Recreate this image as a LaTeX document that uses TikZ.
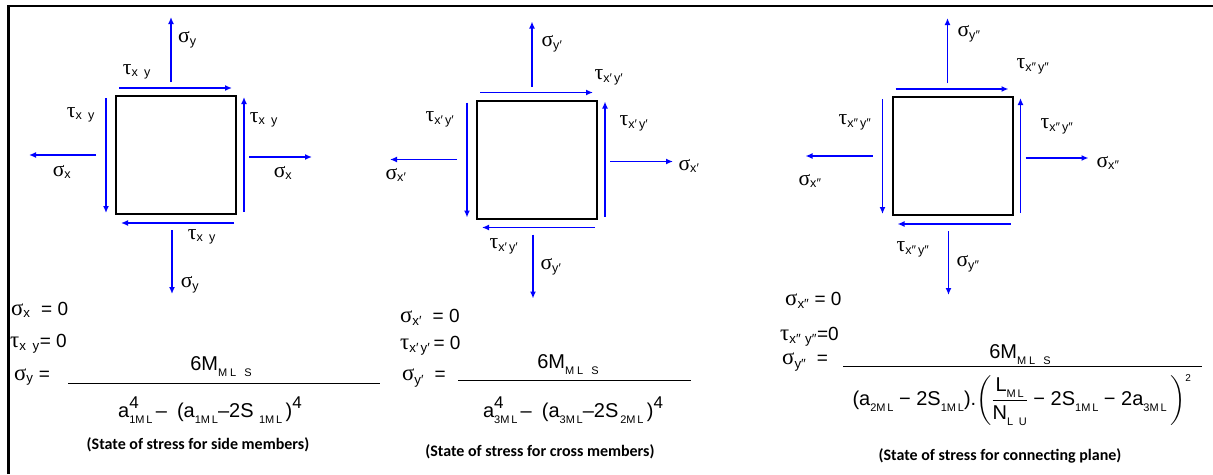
\documentclass[tikz,border=0pt]{standalone}
\usepackage{fontspec}
\usepackage{amsmath}
\setmainfont{Liberation Sans}
\newfontfamily\capfont{Carlito}
\newfontfamily\grk[Scale=1.2]{Liberation Serif}
\usetikzlibrary{arrows.meta}
\newcommand{\sg}{{\grk σ}}
\newcommand{\ta}{{\grk τ}}
\newcommand{\lo}[1]{\raisebox{-0.3em}{\fontsize{11}{11}\selectfont #1}}
\newcommand{\hi}[1]{\raisebox{0.45em}{\fontsize{17}{17}\selectfont #1}}
\newcommand{\hilo}[2]{\rlap{\hi{#1}}\lo{#2}}
\newcommand{\mls}{M\hspace{3pt}L\hspace{8pt}S}
\tikzset{
  force/.style={blue, line width=1.6pt, -{Latex[length=7pt,width=6pt]}},
  elem/.style={draw, line width=2pt, minimum width=120pt, minimum height=118pt, inner sep=0pt},
  lbl/.style={font=\fontsize{18}{21}\selectfont, inner sep=0pt},
  eq/.style={font=\fontsize{19}{22}\selectfont, anchor=west, inner sep=0pt},
  frac/.style={font=\fontsize{20}{24}\selectfont, inner sep=0pt},
  capt/.style={font=\capfont\bfseries\fontsize{16}{19}\selectfont, inner sep=0pt}
}
\begin{document}
\begin{tikzpicture}[x=1pt,y=-1pt]
  \useasboundingbox (0,0) rectangle (1213,474);
  \draw[line width=2.6pt] (8.5,474) -- (8.5,6) -- (1213,6);
  % the three elements
  \node[elem] (side) at (176,155) {};
  \node[elem] (cross) at (537,159.5) {};
  \node[elem] (plane) at (952.5,156) {};
  \foreach \e in {side,cross,plane} {
    \draw[force] ([shift={(-5,-13)}]\e.north) -- ++(0,-65);
    \draw[force] ([shift={(4,-7)}]\e.north west) -- ([shift={(-5,-7)}]\e.north east);
    \draw[force] ([shift={(-9,3)}]\e.north west) -- ([shift={(-9,-2)}]\e.south west);
    \draw[force] ([shift={(7,-3)}]\e.south east) -- ([shift={(7,2)}]\e.north east);
    \draw[force] ([shift={(-19,0)}]\e.west) -- ++(-67,0);
    \draw[force] ([shift={(12,2)}]\e.east) -- ++(63,0);
    \draw[force] ([shift={(-3,8)}]\e.south east) -- ([shift={(6,8)}]\e.south west);
    \draw[force] ([shift={(-4,15)}]\e.south) -- ++(0,64);
  }
  % side members
  \node[lbl,anchor=west] (sy1a) at (178,40) {\sg\textsubscript{y}};
  \node[lbl] (txy1a) at (137,72) {\ta\textsubscript{x\enspace y}};
  \node[lbl] (txy1b) at (81,115) {\ta\textsubscript{x\enspace y}};
  \node[lbl] (txy1c) at (264,120) {\ta\textsubscript{x\enspace y}};
  \node[lbl] (sx1a) at (62,172) {\sg\textsubscript{x}};
  \node[lbl] (sx1b) at (283,173) {\sg\textsubscript{x}};
  \node[lbl] (txy1d) at (202,237) {\ta\textsubscript{x\enspace y}};
  \node[lbl] (sy1b) at (190,285) {\sg\textsubscript{y}};
  \node[eq] (ex1) at (11,310) {\sg\textsubscript{x} \;= 0};
  \node[eq] (et1) at (10,344) {\ta\textsubscript{x\enspace y}= 0};
  \node[eq] (ey1) at (14,377) {\sg\textsubscript{y} =};
  \draw[line width=0.9pt] (68,383) -- (380,383);
  \node[frac] (num1) at (221,367) {6M\lo{\mls}};
  \node[frac] (den1) at (210,410) {a\hilo{4}{1M\,L}\,–\enspace(a\lo{1M\,L}–2S\lo{\enspace1M\,L}\,)\hi{4}};
  \node[capt] (cap1) at (198,445) {(State of stress for side members)};
  % cross members
  \node[lbl] (sy2a) at (552,44) {\sg\textsubscript{y′}};
  \node[lbl] (txy2a) at (609,77) {\ta\textsubscript{x′\,y′}};
  \node[lbl] (txy2b) at (440,119) {\ta\textsubscript{x′\,y′}};
  \node[lbl] (txy2c) at (634,123) {\ta\textsubscript{x′\,y′}};
  \node[lbl] (sx2a) at (396,175) {\sg\textsubscript{x′}};
  \node[lbl] (sx2b) at (689,166) {\sg\textsubscript{x′}};
  \node[lbl] (txy2d) at (504,246) {\ta\textsubscript{x′\,y′}};
  \node[lbl] (sy2b) at (551,267) {\sg\textsubscript{y′}};
  \node[eq] (ex2) at (400,317) {\sg\textsubscript{x′} \;= 0};
  \node[eq] (et2) at (400,346) {\ta\textsubscript{x′\,y′}\,= 0};
  \node[eq] (ey2) at (402,378) {\sg\textsubscript{y′} \;=};
  \draw[line width=0.9pt] (458,380) -- (691,380);
  \node[frac] (num2) at (568,365) {6M\lo{\mls}};
  \node[frac] (den2) at (573,410) {a\hilo{4}{3M\,L}\,–\enspace(a\lo{3M\,L}–2S\lo{\,2M\,L}\,)\hi{4}};
  \node[capt] (cap2) at (540,452) {(State of stress for cross members)};
  % connecting plane
  \node[lbl] (sy3a) at (969,34) {\sg\textsubscript{y″}};
  \node[lbl] (txy3a) at (1033,66) {\ta\textsubscript{x″\,y″}};
  \node[lbl] (txy3b) at (855,122) {\ta\textsubscript{x″\,y″}};
  \node[lbl] (txy3c) at (1057,126) {\ta\textsubscript{x″\,y″}};
  \node[lbl] (sx3a) at (810,181) {\sg\textsubscript{x″}};
  \node[lbl] (sx3b) at (1108,163) {\sg\textsubscript{x″}};
  \node[lbl] (txy3d) at (913,249) {\ta\textsubscript{x″\,y″}};
  \node[lbl] (sy3b) at (968,264) {\sg\textsubscript{y″}};
  \node[eq] (ex3) at (785,300) {\sg\textsubscript{x″} = 0};
  \node[eq] (et3) at (780,337) {\ta\textsubscript{x″\,\,y″}=0};
  \node[eq] (ey3) at (782,362) {\sg\textsubscript{y″} \;=};
  \draw[line width=0.9pt] (843,366) -- (1202,366);
  \node[frac] (num3) at (1020,355) {6M\lo{\mls}};
  \node[frac] (den3) at (1022,400) {(a\lo{2M\,L} − 2S\lo{1M\,L}).$\left(\dfrac{\text{L\lo{M\,L}}}{\text{N\lo{L\enspace U}}}\text{ − 2S\lo{1M\,L} − 2a\lo{3M\,L}}\,\right)^{\text{\fontsize{10}{10}\selectfont 2}}$};
  \node[capt] (cap3) at (1000,456) {(State of stress for connecting plane)};
\end{tikzpicture}
\end{document}
